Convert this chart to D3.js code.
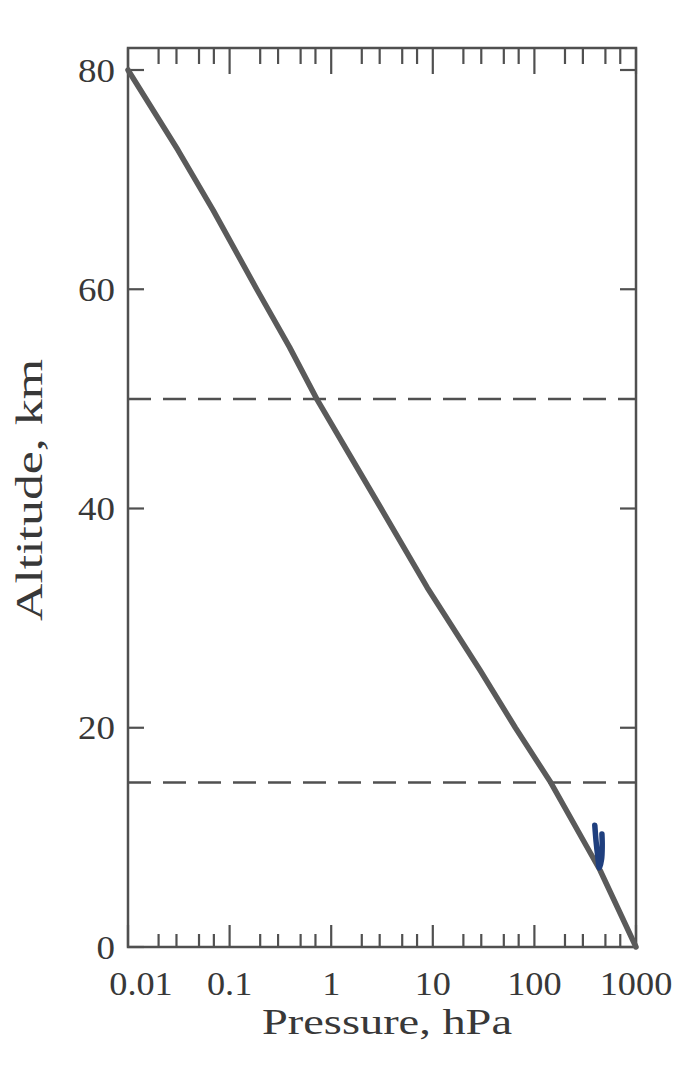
<!DOCTYPE html>
<html>
<head>
<meta charset="utf-8">
<script src="https://cdn.jsdelivr.net/npm/d3@7/dist/d3.min.js"></script>
<style>
  html, body { margin: 0; padding: 0; background: #fff; }
  svg { display: block; }
</style>
</head>
<body>
<svg id="chart" width="694" height="1074"></svg>
<script>
// ---- data ----
const pressure = [0.01, 0.031, 0.069, 0.185, 0.39, 0.72, 1.63, 3.1, 8.8, 29, 65, 145, 443, 1000]; // hPa
const altitude = [80, 72.7, 67.2, 60, 54.7, 50, 44.4, 40, 32.8, 25.3, 20, 15, 7, 0];           // km
const boundaryAltitudes = [50, 15];            // dashed lines (km)
const xTickValues = [0.01, 0.1, 1, 10, 100, 1000];
const xTickLabels = ["0.01", "0.1", "1", "10", "100", "1000"];
const minorMultipliers = [2, 3, 5, 7];
const yTickValues = [0, 20, 40, 60, 80];
const yTickLabels = ["0", "20", "40", "60", "80"];
const markPressure = [393, 405, 420, 436, 458, 465, 462];   // hand-drawn blue mark
const markAltitude = [11.1, 9.6, 8.3, 7.2, 8.0, 9.2, 10.3];

// ---- layout ----
const padL = 128, padR = 636, padT = 48, padB = 947;
const svg = d3.select("#chart");
const x = d3.scaleLog().domain([0.01, 1000]).range([padL, padR]);
const y = d3.scaleLinear().domain([0, 80]).range([padB, 70]);
const ink = "#505050";
const textInk = "#383838";
const font = "'Liberation Serif', 'DejaVu Serif', serif";

// minor ticks
const minorTicks = [];
for (let d = 0.01; d < 1000; d *= 10) {
  minorMultipliers.forEach(m => minorTicks.push(+(d * m).toPrecision(3)));
}

// frame
svg.append("rect")
  .attr("x", padL).attr("y", padT)
  .attr("width", padR - padL).attr("height", padB - padT)
  .attr("fill", "none").attr("stroke", ink).attr("stroke-width", 2.5);

const ticksG = svg.append("g").attr("stroke", ink).attr("stroke-width", 2.2);
minorTicks.forEach(v => {
  ticksG.append("line").attr("x1", x(v)).attr("x2", x(v)).attr("y1", padB).attr("y2", padB - 13);
  ticksG.append("line").attr("x1", x(v)).attr("x2", x(v)).attr("y1", padT).attr("y2", padT + 16);
});
xTickValues.forEach(v => {
  ticksG.append("line").attr("x1", x(v)).attr("x2", x(v)).attr("y1", padB).attr("y2", padB - 22);
  ticksG.append("line").attr("x1", x(v)).attr("x2", x(v)).attr("y1", padT).attr("y2", padT + 26);
});
yTickValues.forEach(v => {
  ticksG.append("line").attr("x1", padL).attr("x2", padL + 16).attr("y1", y(v)).attr("y2", y(v));
  ticksG.append("line").attr("x1", padR).attr("x2", padR - 16).attr("y1", y(v)).attr("y2", y(v));
});

// x tick labels
svg.append("g").selectAll("text").data(xTickValues).join("text")
  .attr("transform", (d, i) => `translate(${x(d) + (i === 0 ? 13 : 0)},995) scale(1.1,1)`)
  .attr("text-anchor", "middle")
  .attr("font-family", font).attr("font-size", 33).attr("fill", textInk)
  .text((d, i) => xTickLabels[i]);

// y tick labels
svg.append("g").selectAll("text").data(yTickValues).join("text")
  .attr("transform", d => `translate(115,${y(d)}) scale(1.12,1)`)
  .attr("dy", "0.35em")
  .attr("text-anchor", "end")
  .attr("font-family", font).attr("font-size", 33).attr("fill", textInk)
  .text((d, i) => yTickLabels[i]);

// axis titles
svg.append("text")
  .attr("x", 387).attr("y", 1034)
  .attr("text-anchor", "middle")
  .attr("font-family", font).attr("font-size", 36).attr("fill", textInk)
  .attr("textLength", 250).attr("lengthAdjust", "spacingAndGlyphs")
  .text("Pressure, hPa");

svg.append("text")
  .attr("transform", "translate(42,490) rotate(-90)")
  .attr("text-anchor", "middle")
  .attr("font-family", font).attr("font-size", 38).attr("fill", textInk)
  .attr("textLength", 262).attr("lengthAdjust", "spacingAndGlyphs")
  .text("Altitude, km");

// dashed boundary lines
svg.append("g").selectAll("line").data(boundaryAltitudes).join("line")
  .attr("x1", padL).attr("x2", padR)
  .attr("y1", d => y(d)).attr("y2", d => y(d))
  .attr("stroke", ink).attr("stroke-width", 2.5)
  .attr("stroke-dasharray", "23,12");

// pressure-altitude curve
const pts = pressure.map((p, i) => [p, altitude[i]]);
svg.append("path")
  .datum(pts)
  .attr("d", d3.line().x(d => x(d[0])).y(d => y(d[1])))
  .attr("fill", "none").attr("stroke", "#5a5a5a").attr("stroke-width", 5.5)
  .attr("stroke-linejoin", "round").attr("stroke-linecap", "round");

// hand-drawn blue mark
const markPts = markPressure.map((p, i) => [p, markAltitude[i]]);
svg.append("path")
  .datum(markPts)
  .attr("d", d3.line().x(d => x(d[0])).y(d => y(d[1])).curve(d3.curveCatmullRom))
  .attr("fill", "none").attr("stroke", "#1f3f7e").attr("stroke-width", 5.5)
  .attr("stroke-linecap", "round").attr("stroke-linejoin", "round");
</script>
</body>
</html>
